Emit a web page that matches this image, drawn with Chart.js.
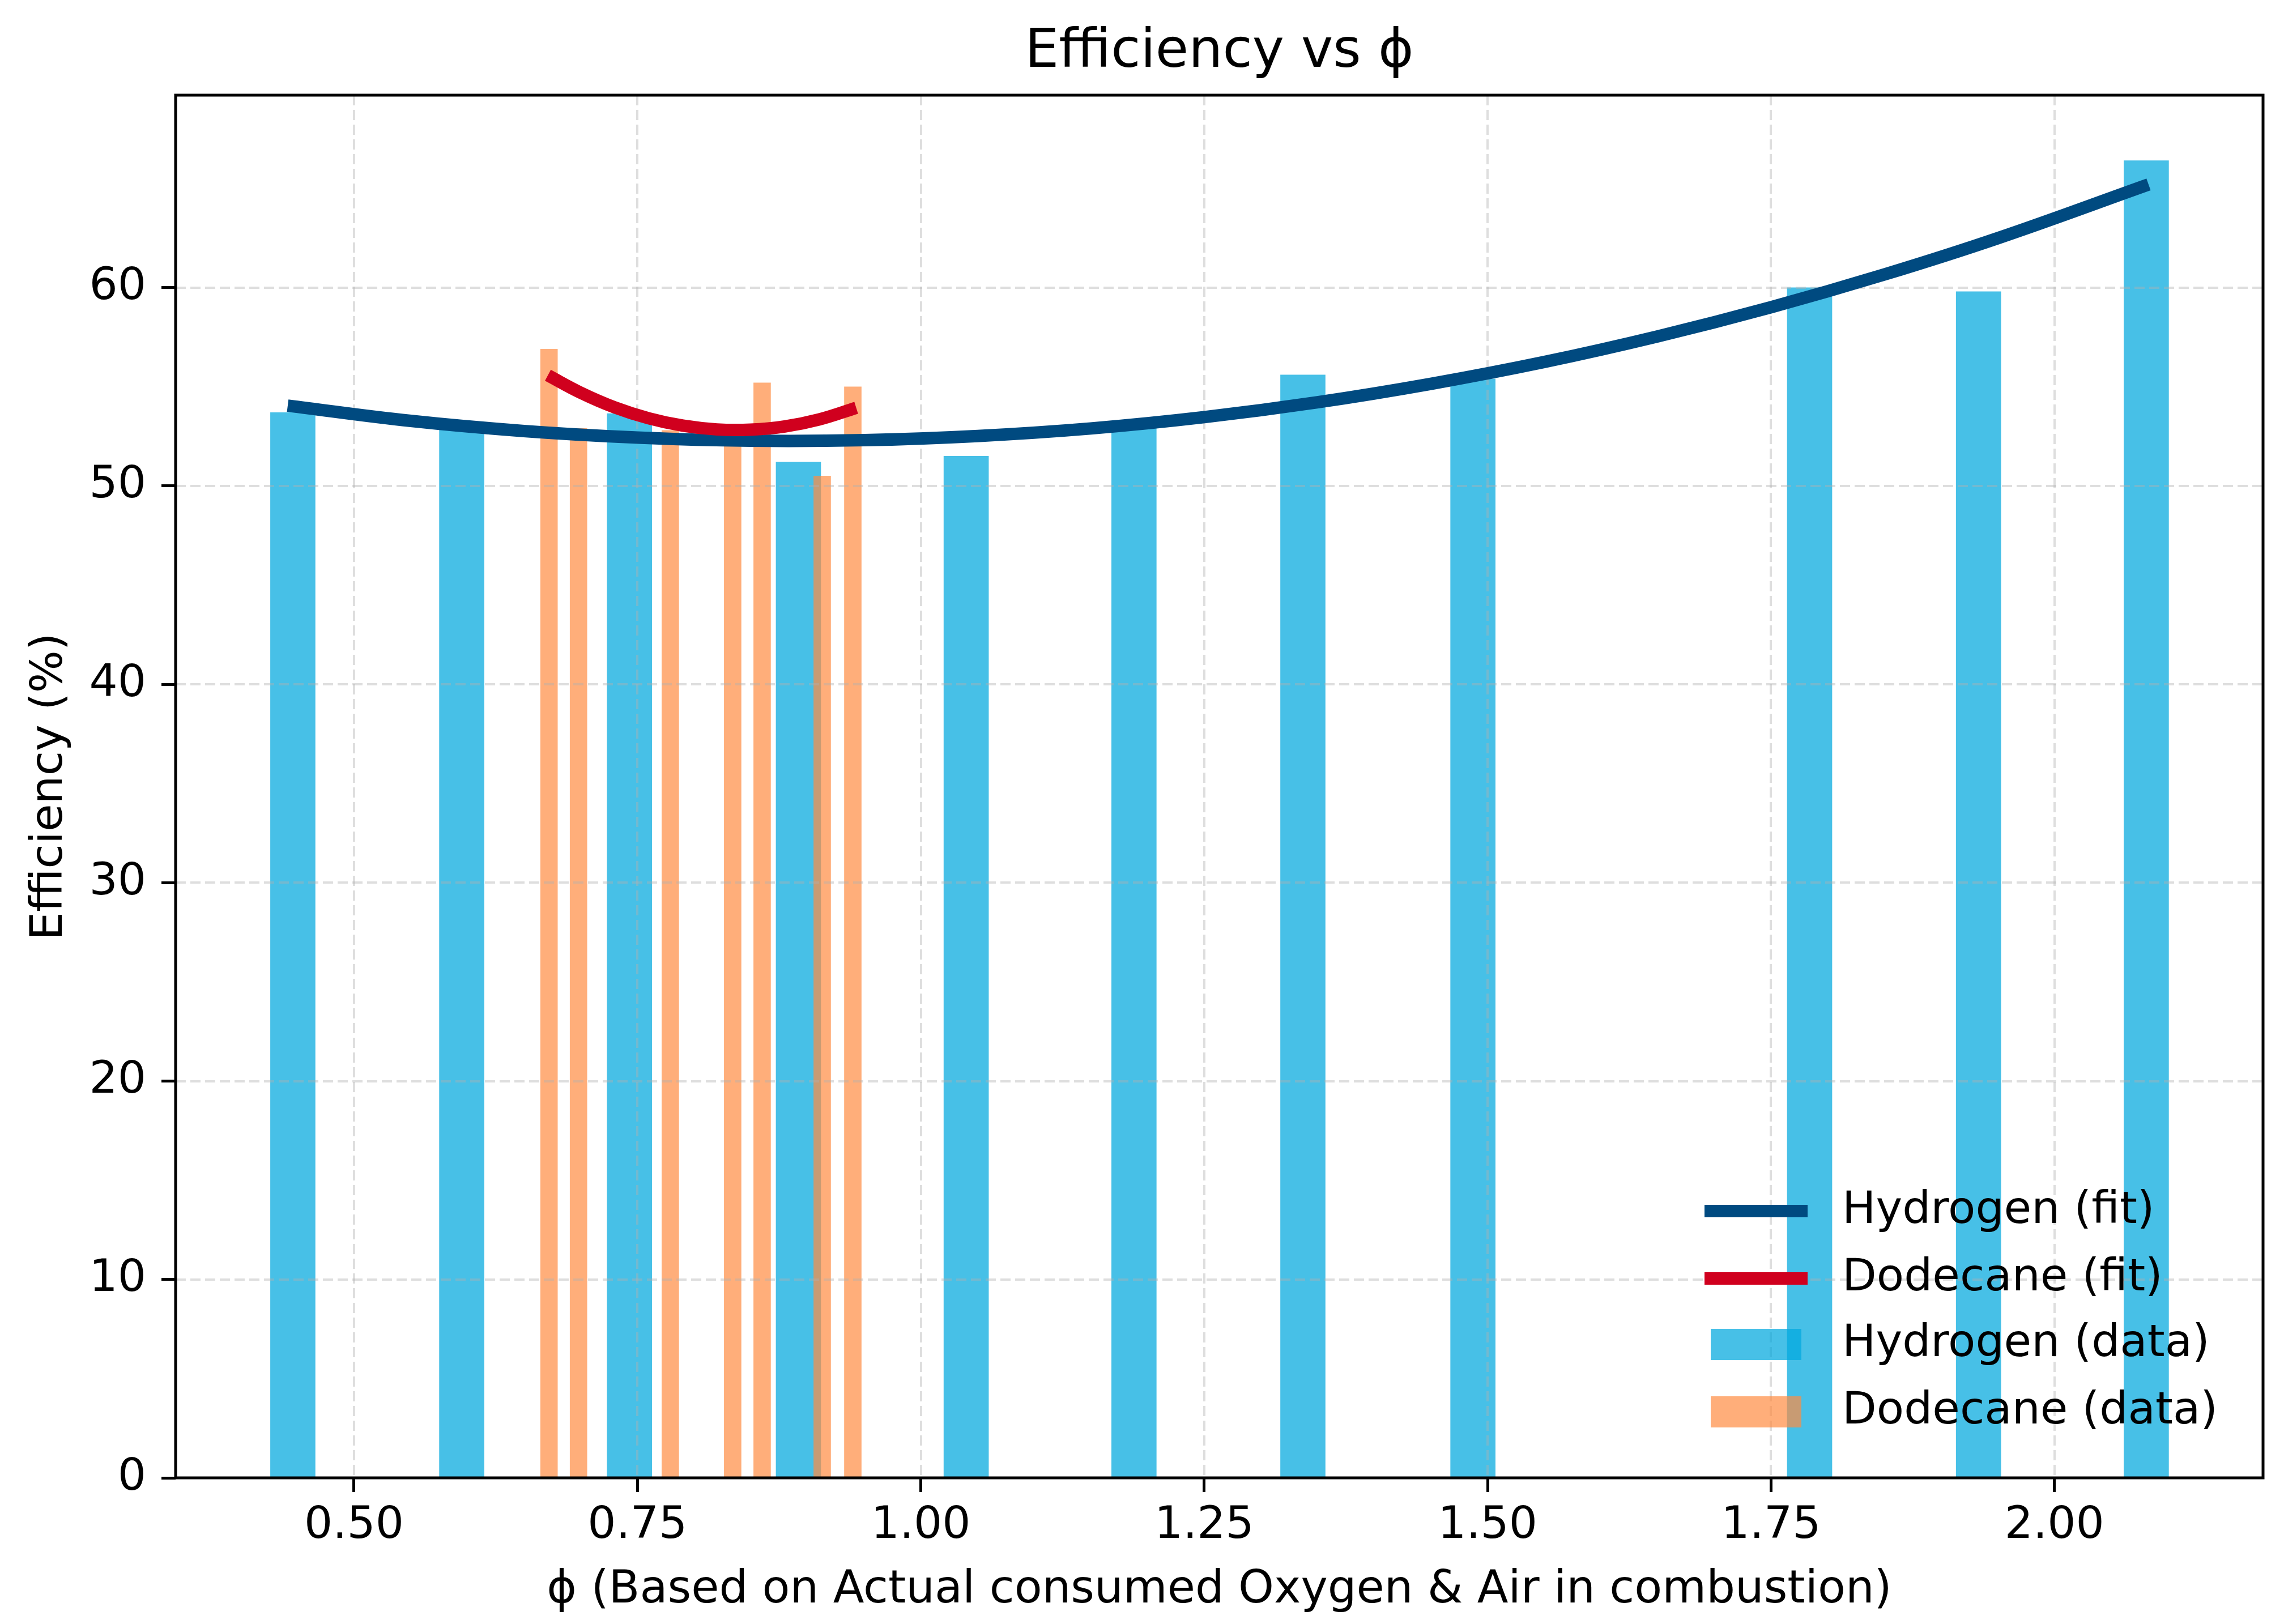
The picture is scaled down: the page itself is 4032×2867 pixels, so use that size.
<!DOCTYPE html>
<html>
<head>
<meta charset="utf-8">
<title>Efficiency vs ϕ</title>
<script src="https://cdn.jsdelivr.net/npm/chart.js@4.4.1/dist/chart.umd.min.js"></script>
<style>
  body { margin: 0; background: #ffffff; }
  canvas { display: block; }
</style>
</head>
<body>
<canvas id="effChart" width="4032" height="2867"></canvas>
<script>
// measured values (phi, efficiency %)
const hydrogenPhi = [0.446, 0.595, 0.743, 0.892, 1.040, 1.188, 1.337, 1.487, 1.635, 1.784, 1.933, 2.081];
const hydrogenEff = [53.7, 52.9, 53.65, 51.2, 51.5, 53.0, 55.6, 55.4, null, 60.0, 59.8, 66.4];

const dodecanePhi = [0.672, 0.698, 0.779, 0.834, 0.860, 0.913, 0.940];
const dodecaneEff = [56.9, 52.9, 52.8, 53.0, 55.2, 50.5, 55.0];

// fitted curves
const hydrogenFitPhi = [0.4415, 0.55, 0.65, 0.75, 0.85, 0.95, 1.05, 1.15, 1.25, 1.35, 1.45, 1.55, 1.65, 1.75, 1.85, 1.95, 2.083];
const hydrogenFitEff = [54.05, 53.28, 52.77, 52.44, 52.28, 52.31, 52.52, 52.90, 53.47, 54.22, 55.15, 56.25, 57.54, 59.01, 60.66, 62.49, 65.20];

const dodecaneFitPhi = [0.671, 0.70, 0.73, 0.76, 0.79, 0.82, 0.85, 0.88, 0.91, 0.943];
const dodecaneFitEff = [55.58, 54.70, 53.96, 53.41, 53.04, 52.85, 52.84, 53.00, 53.35, 53.94];

const xTicks = [0.50, 0.75, 1.00, 1.25, 1.50, 1.75, 2.00];
const yTicks = [0, 10, 20, 30, 40, 50, 60];

const toPoints = (xs, ys) => xs.map((x, i) => ({ x: x, y: ys[i] }));

const FONT = 'DejaVu Sans';
Chart.defaults.font.family = FONT;
Chart.defaults.color = '#000';

// dashed grid drawn above the bars but under the fit lines (like matplotlib)
const gridPlugin = {
  id: 'midGrid',
  afterDatasetDraw(chart, args) {
    if (args.index !== 1) return;
    const { ctx, chartArea, scales } = chart;
    ctx.save();
    ctx.strokeStyle = 'rgba(176,176,176,0.42)';
    ctx.lineWidth = 4;
    ctx.setLineDash([18, 8]);
    xTicks.forEach(v => {
      const px = Math.round(scales.x.getPixelForValue(v));
      ctx.beginPath();
      ctx.moveTo(px, chartArea.top);
      ctx.lineTo(px, chartArea.bottom);
      ctx.stroke();
    });
    yTicks.forEach(v => {
      const py = Math.round(scales.y.getPixelForValue(v));
      ctx.beginPath();
      ctx.moveTo(chartArea.left, py);
      ctx.lineTo(chartArea.right, py);
      ctx.stroke();
    });
    ctx.restore();
  }
};

// full box around the axes
const framePlugin = {
  id: 'frame',
  afterDatasetsDraw(chart) {
    const { ctx, chartArea } = chart;
    ctx.save();
    ctx.strokeStyle = '#000';
    ctx.lineWidth = 5;
    ctx.strokeRect(chartArea.left, chartArea.top, chartArea.right - chartArea.left, chartArea.bottom - chartArea.top);
    ctx.restore();
  }
};

// legend in the lower right corner, no frame
const cornerLegend = {
  id: 'cornerLegend',
  afterDraw(chart) {
    const { ctx, chartArea } = chart;
    const ds = chart.data.datasets;
    const rows = [ds[2], ds[3], ds[0], ds[1]];
    const offsets = [-471, -352, -236, -117];
    const x0 = chartArea.right - 986;
    const x1 = chartArea.right - 804;
    ctx.save();
    ctx.font = '79px "' + FONT + '"';
    ctx.textBaseline = 'middle';
    ctx.textAlign = 'left';
    rows.forEach((d, i) => {
      const y = chartArea.bottom + offsets[i];
      if (d.type === 'line') {
        ctx.strokeStyle = d.borderColor;
        ctx.lineWidth = 22;
        ctx.beginPath();
        ctx.moveTo(x0, y);
        ctx.lineTo(x1, y);
        ctx.stroke();
      } else {
        ctx.fillStyle = d.backgroundColor;
        ctx.fillRect(x0 + 11, y - 27, 160, 55);
      }
      ctx.fillStyle = '#000';
      ctx.fillText(d.label, chartArea.right - 743, y);
    });
    ctx.restore();
  }
};

const ctx = document.getElementById('effChart').getContext('2d');
new Chart(ctx, {
  type: 'bar',
  data: {
    datasets: [{
      type: 'bar',
      label: 'Hydrogen (data)',
      data: toPoints(hydrogenPhi, hydrogenEff),
      backgroundColor: 'rgba(0,168,222,0.72)',
      borderWidth: 0,
      barThickness: 79,
      grouped: false,
      order: 4
    }, {
      type: 'bar',
      label: 'Dodecane (data)',
      data: toPoints(dodecanePhi, dodecaneEff),
      backgroundColor: 'rgba(255,140,66,0.7)',
      borderWidth: 0,
      barThickness: 30,
      grouped: false,
      order: 3
    }, {
      type: 'line',
      label: 'Hydrogen (fit)',
      data: toPoints(hydrogenFitPhi, hydrogenFitEff),
      borderColor: '#004a80',
      borderWidth: 22,
      pointRadius: 0,
      tension: 0.4,
      fill: false,
      order: 2
    }, {
      type: 'line',
      label: 'Dodecane (fit)',
      data: toPoints(dodecaneFitPhi, dodecaneFitEff),
      borderColor: '#d0001e',
      borderWidth: 22,
      pointRadius: 0,
      tension: 0.4,
      fill: false,
      order: 1
    }]
  },
  options: {
    responsive: false,
    devicePixelRatio: 1,
    animation: false,
    layout: { padding: { left: 0, right: 37, top: 0, bottom: 0 } },
    plugins: {
      legend: { display: false },
      tooltip: { enabled: false },
      title: {
        display: true,
        text: 'Efficiency vs ϕ',
        fullSize: false,
        color: '#000',
        font: { family: FONT, size: 95, weight: 'normal' },
        padding: { top: 36, bottom: 18 }
      }
    },
    scales: {
      x: {
        type: 'linear',
        min: 0.3426,
        max: 2.184,
        offset: false,
        grid: { drawOnChartArea: false, offset: false, drawTicks: true, tickLength: 25, tickWidth: 5, tickColor: '#000' },
        border: { display: false },
        ticks: {
          color: '#000',
          font: { family: FONT, size: 79 },
          padding: 13,
          maxRotation: 0,
          autoSkip: false,
          callback: v => Number(v).toFixed(2)
        },
        afterBuildTicks: axis => { axis.ticks = xTicks.map(v => ({ value: v })); },
        afterFit: scale => { scale.height = 258; },
        title: {
          display: true,
          text: 'ϕ (Based on Actual consumed Oxygen & Air in combustion)',
          color: '#000',
          font: { family: FONT, size: 80 },
          padding: { top: 0, bottom: 11 }
        }
      },
      y: {
        type: 'linear',
        min: 0,
        max: 69.7,
        grid: { drawOnChartArea: false, drawTicks: true, tickLength: 25, tickWidth: 5, tickColor: '#000' },
        border: { display: false },
        ticks: {
          color: '#000',
          font: { family: FONT, size: 79 },
          padding: 27,
          callback: v => String(v)
        },
        afterBuildTicks: axis => { axis.ticks = yTicks.map(v => ({ value: v })); },
        afterFit: scale => { scale.width = 310; },
        title: {
          display: true,
          text: 'Efficiency (%)',
          color: '#000',
          font: { family: FONT, size: 79 },
          padding: { top: 41, bottom: 0 }
        }
      }
    }
  },
  plugins: [gridPlugin, framePlugin, cornerLegend]
});
</script>
</body>
</html>
